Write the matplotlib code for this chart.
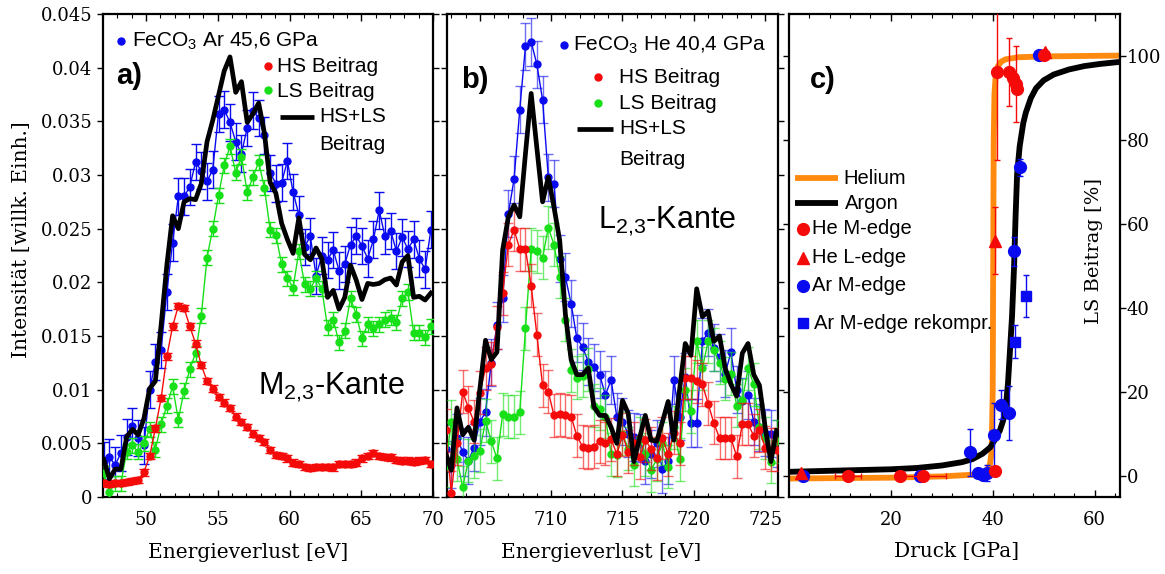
import numpy as np
import matplotlib
matplotlib.use("Agg")
import matplotlib.pyplot as plt
from matplotlib.ticker import MultipleLocator, FuncFormatter

plt.rcParams["mathtext.fontset"] = "custom"
plt.rcParams["mathtext.rm"] = "Liberation Sans"
plt.rcParams["mathtext.it"] = "Liberation Sans:italic"
plt.rcParams["mathtext.bf"] = "Liberation Sans:bold"

SANS = "Liberation Sans"
SERIF = "DejaVu Serif"

BLUE = "#0a0af0"
RED = "#f50a0a"
GREEN = "#18e018"
ORANGE = "#ff8a10"

# ---------------- (a) FeCO3 in Ar, 45.6 GPa, Fe M2,3 edge (intensities in 1e-3) --------------
energy_a = [47.05, 47.45, 47.85, 48.25, 48.65, 49.05, 49.45, 49.85, 50.25, 50.65,
            51.05, 51.45, 51.85, 52.25, 52.65, 53.05, 53.45, 53.85, 54.25, 54.65,
            55.05, 55.45, 55.85, 56.25, 56.65, 57.05, 57.45, 57.85, 58.25, 58.65,
            59.05, 59.45, 59.85, 60.25, 60.65, 61.05, 61.45, 61.85, 62.25, 62.65,
            63.05, 63.45, 63.85, 64.25, 64.65, 65.05, 65.45, 65.85, 66.25, 66.65,
            67.05, 67.45, 67.85, 68.25, 68.65, 69.05, 69.45, 69.85]
data_a = [3.4, 3.7, 3.0, 4.1, 5.6, 6.6, 5.5, 4.8, 10.0, 12.6,
          13.7, 19.1, 23.7, 28.0, 28.0, 28.9, 31.2, 30.4, 29.4, 30.5,
          35.7, 36.1, 34.9, 33.1, 32.0, 34.4, 36.0, 35.3, 33.7, 30.2,
          29.2, 29.3, 31.3, 28.4, 26.3, 23.3, 24.3, 20.6, 22.5, 22.1,
          23.0, 21.1, 21.7, 23.5, 24.3, 23.4, 22.2, 24.0, 26.7, 24.3,
          24.8, 22.9, 24.2, 23.1, 24.0, 22.2, 21.2, 24.9]
hs_a = [1.3, 1.2, 1.3, 1.3, 1.4, 1.5, 1.6, 2.3, 3.8, 6.4,
        9.2, 13.1, 15.9, 17.8, 17.6, 15.9, 14.3, 12.3, 10.8, 10.1,
        9.3, 8.8, 8.3, 7.5, 7.0, 6.5, 5.9, 5.5, 5.1, 4.4,
        3.9, 3.8, 3.6, 3.2, 3.1, 2.8, 2.7, 2.8, 2.8, 2.8,
        2.75, 3.1, 3.1, 3.1, 3.2, 3.6, 3.8, 4.1, 3.8, 3.75,
        3.7, 3.45, 3.4, 3.4, 3.3, 3.4, 3.45, 3.1]
ls_a = [2.2, 0.5, 1.3, 1.3, 4.2, 4.8, 4.2, 5.0, 6.3, 4.4,
        6.8, 8.5, 10.3, 7.2, 9.9, 11.9, 13.4, 16.9, 22.3, 25.0,
        28.1, 30.9, 32.7, 30.2, 31.7, 28.4, 29.8, 31.2, 28.8, 24.9,
        24.4, 21.7, 20.4, 19.5, 22.9, 19.8, 19.4, 20.4, 19.4, 15.8,
        16.5, 14.4, 15.5, 18.5, 17.0, 14.8, 16.1, 15.7, 16.1, 16.5,
        16.7, 16.3, 18.5, 19.1, 15.3, 15.3, 14.9, 15.9]
err_data_a, err_hs_a, err_ls_a = 1.7, 0.3, 0.7

# ---------------- (b) FeCO3 in He, 40.4 GPa, Fe L2,3 edge (intensities in 1e-3) --------------
energy_b = [702.6, 703.0, 703.4, 703.8, 704.2, 704.6, 705.0, 705.4, 705.8, 706.2,
            706.6, 707.0, 707.4, 707.8, 708.2, 708.6, 709.0, 709.4, 709.8, 710.2,
            710.6, 711.0, 711.4, 711.8, 712.2, 712.6, 713.0, 713.4, 713.8, 714.2,
            714.6, 715.0, 715.4, 715.8, 716.2, 716.6, 717.0, 717.4, 717.8, 718.2,
            718.6, 719.0, 719.4, 719.8, 720.2, 720.6, 721.0, 721.4, 721.8, 722.2,
            722.6, 723.0, 723.4, 723.8, 724.2, 724.6, 725.0, 725.4, 725.8]
data_b = [4.5, 3.0, 5.5, 4.2, 3.4, 4.6, 7.0, 7.9, 12.5, 16.0,
          18.5, 26.4, 29.6, 36.1, 42.0, 42.4, 40.3, 37.0, 29.8, 29.2,
          22.2, 20.5, 18.0, 14.8, 14.0, 12.6, 12.1, 11.4, 9.5, 10.9,
          7.5, 7.0, 5.9, 5.6, 5.5, 3.4, 4.0, 5.0, 2.6, 3.4,
          10.9, 7.5, 11.2, 6.9, 6.9, 14.5, 15.3, 13.9, 13.0, 11.5,
          13.5, 10.0, 8.9, 9.5, 7.0, 6.5, 6.0, 5.9, 5.0]
hs_b = [6.2, 0.4, 5.0, 9.8, 8.3, 7.0, 9.7, 12.0, 12.4, 15.8,
        19.0, 23.5, 24.9, 23.1, 23.1, 19.7, 15.1, 10.4, 9.8, 7.6,
        7.7, 7.6, 7.5, 5.7, 4.7, 4.6, 4.7, 5.2, 5.0, 5.4,
        4.0, 5.8, 4.2, 5.0, 3.7, 5.3, 4.5, 3.6, 5.5, 4.0,
        6.0, 5.0, 11.1, 11.1, 10.8, 10.5, 8.7, 6.9, 5.5, 5.5,
        5.5, 3.8, 6.8, 6.8, 5.7, 6.2, 4.6, 4.4, 4.4]
ls_b = [2.9, 7.0, 3.5, 0.9, 3.4, 3.8, 4.3, 7.1, 5.2, 3.6,
        7.7, 7.5, 7.5, 7.9, 15.7, 23.1, 22.9, 22.3, 25.1, 23.5,
        20.5, 16.5, 11.8, 11.1, 11.3, 11.9, 8.5, 8.2, 7.5, 4.0,
        3.9, 5.9, 4.5, 3.0, 5.5, 4.0, 2.5, 3.5, 5.0, 2.8,
        6.5, 3.5, 10.0, 8.0, 14.5, 12.0, 14.5, 13.7, 12.5, 11.0,
        11.5, 8.5, 9.0, 12.0, 10.5, 6.5, 5.5, 3.3, 5.2]
fit_b = [4.1, 2.5, 8.3, 5.8, 6.5, 5.3, 10.0, 14.6, 12.8, 13.5,
         23.0, 26.1, 27.2, 26.1, 32.0, 37.6, 32.5, 27.5, 29.8, 27.0,
         23.9, 17.0, 12.8, 11.4, 11.4, 12.0, 8.4, 7.6, 7.6, 6.5,
         5.0, 9.0, 7.8, 3.3, 5.5, 7.6, 5.3, 5.2, 7.0, 8.9,
         5.3, 10.0, 14.3, 13.2, 19.4, 16.8, 17.3, 14.5, 15.0, 12.0,
         10.5, 9.4, 13.4, 14.3, 11.4, 10.4, 6.5, 3.3, 6.2]
err_data_b, err_hs_b, err_ls_b = 2.2, 2.0, 2.0

# ---------------- (c) low-spin fraction vs. pressure ----------------
he_curve_p = [0, 20, 30, 36, 38, 39, 39.5, 39.8, 40.0, 40.1, 40.2, 40.35, 40.6,
              41.0, 41.6, 42.5, 45, 50, 65]
he_curve_ls = [-0.6, -0.4, -0.1, 0.3, 0.8, 1.6, 3.0, 6.0, 20, 50, 80, 91, 95.5,
               97.5, 98.6, 99.2, 99.7, 99.9, 100.1]
ar_curve_p = [0, 10, 20, 25, 30, 34, 36, 38, 39.5, 40.5, 41.4, 42, 42.5, 43, 43.4,
              43.8, 44.2, 44.5, 44.8, 45.3, 46, 46.5, 47.5, 48.5, 50, 52, 55, 58, 61, 65]
ar_curve_ls = [1.0, 1.3, 1.6, 1.9, 2.5, 3.3, 4.0, 5.3, 6.8, 8.8, 10.8, 13, 15.5, 22, 30,
               38, 50, 62, 72, 78.5, 84, 86.5, 90, 92.3, 94.2, 95.6, 96.8, 97.6, 98.1, 98.6]

he_m_p = [11.6, 21.8, 26.3, 40.4, 40.8, 43.2, 44.0, 44.6, 44.8, 50.0]
he_m_ls = [0.0, 0.0, 0.0, 1.3, 96.2, 96.2, 94.8, 93.3, 92.2, 100.3]
he_m_err = [0, 0, 0, 0, 21, 8, 0, 9, 0, 0]
he_m_xerr = [2.6, 0, 4.5, 0, 0, 0, 0, 0, 0, 0]
he_l_p = [2.3, 40.4, 50.2]
he_l_ls = [0.7, 56.0, 101.0]
he_l_err = [0, 8, 0]
ar_m_p = [2.8, 25.7, 35.6, 37.1, 38.1, 38.9, 40.2, 41.7, 43.2, 44.2, 45.4, 49.1]
ar_m_ls = [0.0, 0.0, 5.7, 0.7, 0.3, 0.7, 9.8, 17.0, 15.0, 53.5, 73.5, 100.3]
ar_m_err = [0, 0, 5.6, 0, 0, 2.0, 7.5, 3.5, 6.5, 3.5, 2.0, 0]
ar_rek_p = [44.3, 46.6]
ar_rek_ls = [32.0, 42.8]
ar_rek_err = [4.0, 5.0]

# ---------------- figure layout ----------------
W, H = 1165, 574
fig = plt.figure(figsize=(W / 100, H / 100), dpi=100)


def axes_px(left, right, top, bottom):
    return fig.add_axes([left / W, 1 - bottom / H, (right - left) / W, (bottom - top) / H])


ax_a = axes_px(103, 433, 14, 497)
ax_b = axes_px(447, 778, 14, 497)
ax_c = axes_px(789, 1120, 14, 497)

for ax in (ax_a, ax_b, ax_c):
    for sp in ax.spines.values():
        sp.set_linewidth(1.6)


def scaled(v):
    return np.asarray(v, dtype=float) * 1e-3


def spectrum(ax, x, y, err, color, ecolor, z, ms=5.0, alpha=1.0):
    _, caps, bars = ax.errorbar(x, scaled(y), yerr=err * 1e-3, fmt="o-", color=color,
                                ecolor=ecolor, ms=ms, lw=1.0, elinewidth=1.0, capsize=3.8,
                                capthick=1.0, zorder=z)
    for c in caps:
        c.set_alpha(alpha)
    for b in bars:
        b.set_alpha(alpha)


# panel (a)
spectrum(ax_a, energy_a, data_a, err_data_a, BLUE, BLUE, 2)
spectrum(ax_a, energy_a, ls_a, err_ls_a, GREEN, GREEN, 3)
spectrum(ax_a, energy_a, hs_a, err_hs_a, RED, RED, 4)
sum_a = np.asarray(hs_a) + np.asarray(ls_a)
ax_a.plot(energy_a, scaled(sum_a), color="black", lw=3.4, zorder=6)

# panel (b)
spectrum(ax_b, energy_b, data_b, err_data_b, BLUE, BLUE, 2, alpha=0.6)
spectrum(ax_b, energy_b, ls_b, err_ls_b, GREEN, GREEN, 3, alpha=0.6)
spectrum(ax_b, energy_b, hs_b, err_hs_b, RED, RED, 4, alpha=0.6)
ax_b.plot(energy_b, scaled(fit_b), color="black", lw=3.4, zorder=6)

ax_a.set_xlim(47, 70)
ax_b.set_xlim(702.7, 725.9)
for ax in (ax_a, ax_b):
    ax.set_ylim(0, 0.045)
    ax.yaxis.set_major_locator(MultipleLocator(0.005))
    ax.xaxis.set_major_locator(MultipleLocator(5))
    ax.xaxis.set_minor_locator(MultipleLocator(1))
    ax.tick_params(axis="x", which="both", direction="in", top=True, bottom=True)
    ax.tick_params(axis="x", which="major", length=5, width=1.0, pad=10, labelsize=13)
    ax.tick_params(axis="x", which="minor", length=3, width=0.8)
    ax.tick_params(axis="y", which="major", direction="out", left=True, right=True,
                   length=4, width=1.0, labelsize=13)

ax_a.yaxis.set_major_formatter(FuncFormatter(lambda v, p: "%g" % round(v, 4)))
ax_b.tick_params(axis="y", labelleft=False)

# panel (c)
ax_c.plot(he_curve_p, he_curve_ls, color=ORANGE, lw=4.2, solid_capstyle="butt", zorder=2)
ax_c.plot(ar_curve_p, ar_curve_ls, color="black", lw=4.2, solid_capstyle="butt", zorder=3)
ax_c.errorbar(he_m_p, he_m_ls, yerr=he_m_err, xerr=he_m_xerr, fmt="o", color=RED, ms=8.5,
              elinewidth=1.0, capsize=2, capthick=1.0, zorder=5)
ax_c.errorbar(he_l_p, he_l_ls, yerr=he_l_err, fmt="^", color=RED, ms=9, elinewidth=1.0,
              capsize=2, capthick=1.0, zorder=5)
ax_c.errorbar(ar_m_p, ar_m_ls, yerr=ar_m_err, fmt="o", color=BLUE, ms=8.5, elinewidth=1.0,
              capsize=2, capthick=1.0, zorder=4)
ax_c.errorbar(ar_rek_p, ar_rek_ls, yerr=ar_rek_err, fmt="s", color=BLUE, ms=7, elinewidth=1.0,
              capsize=2, capthick=1.0, zorder=4)

ax_c.set_xlim(0, 65)
ax_c.set_ylim(-5, 110)
ax_c.set_xticks([20, 40, 60])
ax_c.xaxis.set_minor_locator(MultipleLocator(4))
ax_c.set_yticks([0, 20, 40, 60, 80, 100])
ax_c.tick_params(axis="x", which="both", direction="in", top=True, bottom=True)
ax_c.tick_params(axis="x", which="major", length=5, width=1.0, pad=10, labelsize=13)
ax_c.tick_params(axis="x", which="minor", length=3, width=0.8)
ax_c.tick_params(axis="y", which="major", direction="out", left=True, right=True,
                 labelleft=False, labelright=True, length=4, width=1.0, pad=1, labelsize=13)

for ax in (ax_a, ax_b, ax_c):
    for lab in ax.get_xticklabels() + ax.get_yticklabels():
        lab.set_fontfamily(SERIF)

# ---------------- in-panel legends and labels ----------------
def dot(ax, x, y, color, marker="o", ms=5.0):
    ax.plot([x], [y], marker=marker, color=color, ms=ms, ls="none",
            transform=ax.transAxes, clip_on=False, zorder=10)


def label(ax, x, y, s, size=15, **kw):
    ax.text(x, y, s, transform=ax.transAxes, family=SANS, size=size, va="center",
            ha="left", zorder=10, **kw)


def stroke(ax, x0, x1, y, color, lw=3.4):
    ax.plot([x0, x1], [y, y], color=color, lw=lw, transform=ax.transAxes,
            clip_on=False, zorder=10, solid_capstyle="butt")


# (a)
dot(ax_a, 0.055, 0.945, BLUE)
label(ax_a, 0.088, 0.944, r"FeCO$_3$ Ar 45,6 GPa")
dot(ax_a, 0.500, 0.893, RED)
label(ax_a, 0.528, 0.891, "HS Beitrag")
dot(ax_a, 0.500, 0.842, GREEN)
label(ax_a, 0.528, 0.840, "LS Beitrag")
stroke(ax_a, 0.536, 0.640, 0.787, "black")
label(ax_a, 0.655, 0.787, "HS+LS")
label(ax_a, 0.655, 0.730, "Beitrag")
label(ax_a, 0.040, 0.872, "a)", size=21, weight="bold")
label(ax_a, 0.470, 0.228, r"M$_{2{,}3}$-Kante", size=22)

# (b)
dot(ax_b, 0.352, 0.936, BLUE)
label(ax_b, 0.380, 0.936, r"FeCO$_3$ He 40,4 GPa")
dot(ax_b, 0.456, 0.870, RED)
label(ax_b, 0.520, 0.869, "HS Beitrag")
dot(ax_b, 0.456, 0.816, GREEN)
label(ax_b, 0.520, 0.815, "LS Beitrag")
stroke(ax_b, 0.393, 0.500, 0.762, "black")
label(ax_b, 0.520, 0.762, "HS+LS")
label(ax_b, 0.520, 0.698, "Beitrag")
label(ax_b, 0.042, 0.863, "b)", size=21, weight="bold")
label(ax_b, 0.455, 0.570, r"L$_{2{,}3}$-Kante", size=22)

# (c)
stroke(ax_c, 0.018, 0.148, 0.660, ORANGE, lw=4.2)
label(ax_c, 0.163, 0.660, "Helium", size=14.5)
stroke(ax_c, 0.018, 0.148, 0.608, "black", lw=4.2)
label(ax_c, 0.168, 0.608, "Argon", size=14.5)
dot(ax_c, 0.042, 0.555, RED, ms=8.5)
label(ax_c, 0.070, 0.555, "He M-edge", size=14.5)
dot(ax_c, 0.042, 0.495, RED, marker="^", ms=9)
label(ax_c, 0.070, 0.495, "He L-edge", size=14.5)
dot(ax_c, 0.042, 0.437, BLUE, ms=8.5)
label(ax_c, 0.070, 0.437, "Ar M-edge", size=14.5)
dot(ax_c, 0.042, 0.360, BLUE, marker="s", ms=7)
label(ax_c, 0.077, 0.360, "Ar M-edge rekompr.", size=14.5)
label(ax_c, 0.063, 0.863, "c)", size=21, weight="bold")
ax_c.text(0.921, 0.509, "LS Beitrag [%]", transform=ax_c.transAxes, rotation=90,
          ha="center", va="center", family=SERIF, size=14)

# ---------------- axis titles ----------------
fig.text(22 / W, 1 - 240 / H, "Intensität [willk. Einh.]", rotation=90, ha="center",
         va="center", family=SERIF, size=14.5)
fig.text(248 / W, 1 - 552 / H, "Energieverlust [eV]", ha="center", va="center",
         family=SERIF, size=14.5)
fig.text(601 / W, 1 - 552 / H, "Energieverlust [eV]", ha="center", va="center",
         family=SERIF, size=14.5)
fig.text(957 / W, 1 - 552 / H, "Druck [GPa]", ha="center", va="center",
         family=SERIF, size=14.5)

fig.savefig("out.png", dpi=100)
